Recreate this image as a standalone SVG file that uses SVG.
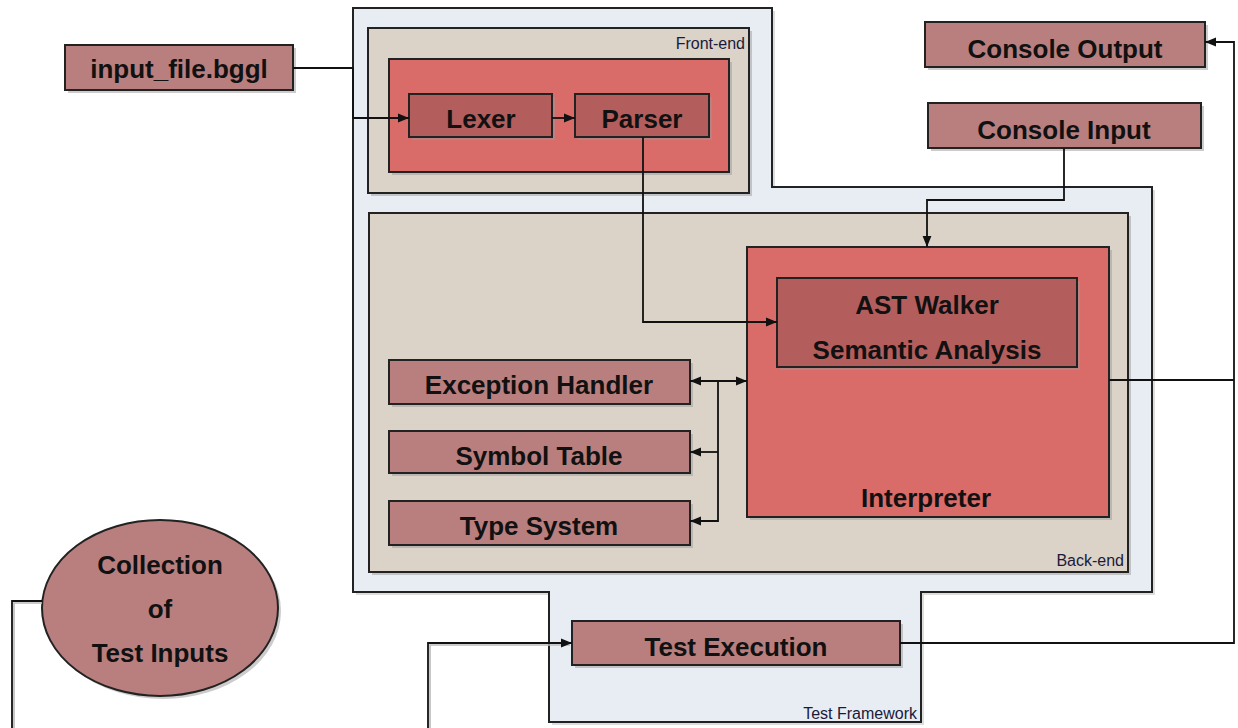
<svg xmlns="http://www.w3.org/2000/svg" width="1238" height="728" viewBox="0 0 1238 728">
<style>
.lbl{font-family:"Liberation Sans",Arial,sans-serif;font-weight:bold;font-size:26px;fill:#111;text-anchor:middle}
.sm{font-family:"Liberation Sans",Arial,sans-serif;font-size:16px;fill:#1a1a3a;text-anchor:end}
.mauve{fill:#b97f7e;stroke:#222;stroke-width:2}
.dark{fill:#b35e5d;stroke:#222;stroke-width:2}
.red{fill:#d96b69;stroke:#222;stroke-width:2}
.beige{fill:#dbd3c8;stroke:#222;stroke-width:2}
.sh{fill:#9a9a9a;opacity:0.5}
.c{fill:none;stroke:#111;stroke-width:1.8}
.cs{fill:none;stroke:#bbb;stroke-width:1.6}
</style>
<defs>
<marker id="ah" viewBox="0 0 10 10" refX="10" refY="5" markerWidth="11" markerHeight="11" markerUnits="userSpaceOnUse" orient="auto-start-reverse">
<path d="M0,1 L10,5 L0,9 z" fill="#111"/>
</marker>
</defs>
<rect width="1238" height="728" fill="#fff"/>
<g id="test-framework">
<path d="M356,11 H775 V190 H1155 V595 H924 V725 H552 V595 H356 Z" fill="#bbb" opacity="0.5"/>
<path d="M353,8 H772 V187 H1152 V592 H921 V722 H549 V592 H353 Z" fill="#e8ecf3" stroke="#222" stroke-width="2"/>
<text class="sm" x="917" y="719">Test Framework</text>
</g>
<g id="front-end">
<rect class="sh" x="371" y="31" width="381" height="165"/>
<rect class="beige" x="368" y="28" width="381" height="165"/>
<text class="sm" x="745" y="49">Front-end</text>
<rect class="sh" x="392" y="62" width="340" height="113"/>
<rect class="red" x="389" y="59" width="340" height="113"/>
</g>
<g id="lexer">
<rect class="sh" x="412" y="97" width="143" height="43"/>
<rect class="dark" x="409" y="94" width="143" height="43"/>
<text class="lbl" x="481" y="128">Lexer</text>
</g>
<g id="parser">
<rect class="sh" x="578" y="97" width="134" height="43"/>
<rect class="dark" x="575" y="94" width="134" height="43"/>
<text class="lbl" x="642" y="128">Parser</text>
</g>
<g id="back-end">
<rect class="sh" x="372" y="216" width="759" height="359"/>
<rect class="beige" x="369" y="213" width="759" height="359"/>
<text class="sm" x="1124" y="566">Back-end</text>
</g>
<g id="interpreter">
<rect class="sh" x="750" y="250" width="362" height="270"/>
<rect class="red" x="747" y="247" width="362" height="270"/>
<text class="lbl" x="926" y="507">Interpreter</text>
</g>
<g id="ast-walker">
<rect class="sh" x="780" y="281" width="300" height="89"/>
<rect class="dark" x="777" y="278" width="300" height="89"/>
<text class="lbl" x="927" y="314">AST Walker</text>
<text class="lbl" x="927" y="359">Semantic Analysis</text>
</g>
<g id="exception-handler">
<rect class="sh" x="392" y="363" width="301" height="44"/>
<rect class="mauve" x="389" y="360" width="301" height="44"/>
<text class="lbl" x="539" y="394">Exception Handler</text>
</g>
<g id="symbol-table">
<rect class="sh" x="392" y="434" width="301" height="42"/>
<rect class="mauve" x="389" y="431" width="301" height="42"/>
<text class="lbl" x="539" y="465">Symbol Table</text>
</g>
<g id="type-system">
<rect class="sh" x="392" y="504" width="301" height="44"/>
<rect class="mauve" x="389" y="501" width="301" height="44"/>
<text class="lbl" x="539" y="535">Type System</text>
</g>
<g id="input-file">
<rect class="sh" x="68" y="48" width="228" height="45"/>
<rect class="mauve" x="65" y="45" width="228" height="45"/>
<text class="lbl" x="179" y="78">input_file.bggl</text>
</g>
<g id="console-output">
<rect class="sh" x="928" y="25" width="280" height="45"/>
<rect class="mauve" x="925" y="22" width="280" height="45"/>
<text class="lbl" x="1065" y="58">Console Output</text>
</g>
<g id="console-input">
<rect class="sh" x="931" y="106" width="273" height="45"/>
<rect class="mauve" x="928" y="103" width="273" height="45"/>
<text class="lbl" x="1064" y="139">Console Input</text>
</g>
<g id="test-execution">
<rect class="sh" x="575" y="624" width="328" height="44"/>
<rect class="mauve" x="572" y="621" width="328" height="44"/>
<text class="lbl" x="736" y="656">Test Execution</text>
</g>
<g id="test-inputs">
<ellipse cx="163" cy="611" rx="118" ry="88" fill="#9a9a9a" opacity="0.5"/>
<ellipse cx="160" cy="608" rx="118" ry="88" fill="#b97f7e" stroke="#222" stroke-width="2"/>
<text class="lbl" x="160" y="574">Collection</text>
<text class="lbl" x="160" y="618">of</text>
<text class="lbl" x="160" y="662">Test Inputs</text>
</g>
<g id="connectors">
<path class="cs" d="M14,730 V603 H42"/>
<path class="cs" d="M430,730 V645 H570"/>
<path class="c" d="M293,68 H353 V118 H409" marker-end="url(#ah)"/>
<path class="c" d="M552,118 H575" marker-end="url(#ah)"/>
<path class="c" d="M643,137 V322 H777" marker-end="url(#ah)"/>
<path class="c" d="M1064,148 V200 H927 V247" marker-end="url(#ah)"/>
<path class="c" d="M1109,380 H1234"/>
<path class="c" d="M900,643 H1234 V42 H1205" marker-end="url(#ah)"/>
<path class="c" d="M42,601 H12 V728"/>
<path class="c" d="M428,728 V643 H572" marker-end="url(#ah)"/>
<path class="c" d="M690,381 H747" marker-start="url(#ah)" marker-end="url(#ah)"/>
<path class="c" d="M718,381 V521 H690" marker-end="url(#ah)"/>
<path class="c" d="M718,452 H690" marker-end="url(#ah)"/>
</g>
</svg>
